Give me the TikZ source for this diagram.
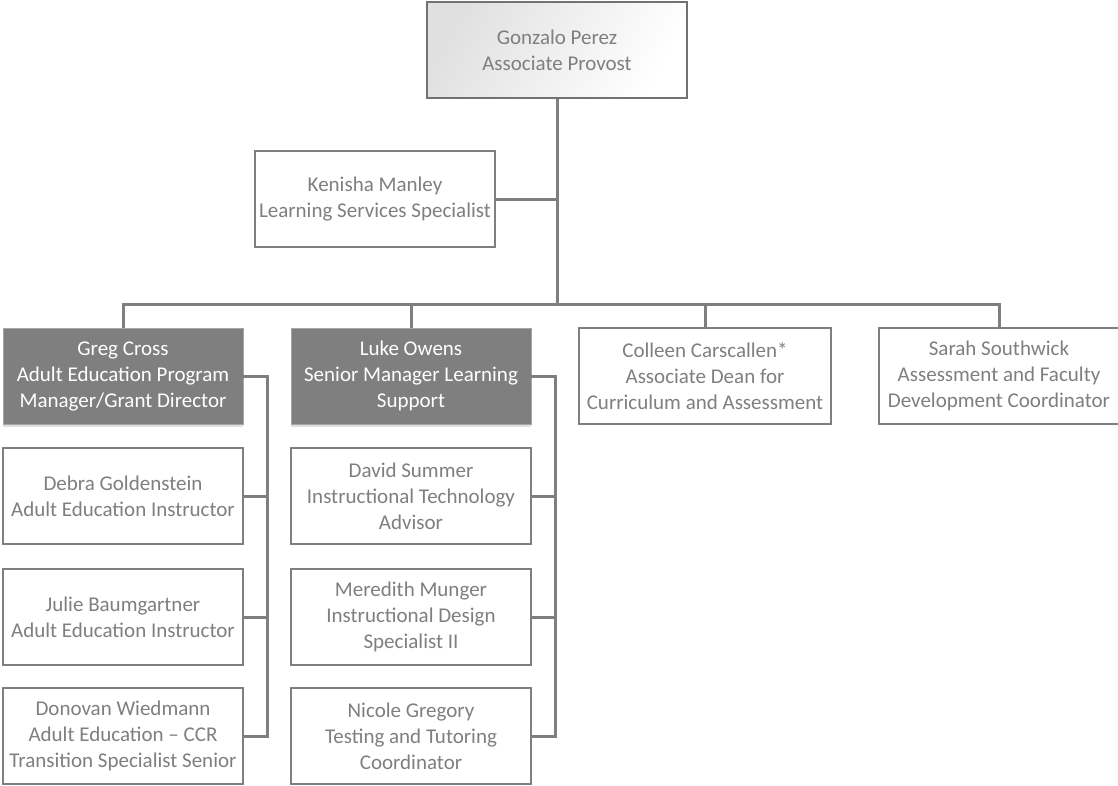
\documentclass[tikz,border=0pt]{standalone}
\usepackage{fontspec}
\setmainfont{Carlito}
\usetikzlibrary{shadows}
\definecolor{linegray}{HTML}{7F7F7F}
\definecolor{textgray}{HTML}{7F7F7F}
\definecolor{boxfill}{HTML}{7F7F7F}
\definecolor{boxedge}{HTML}{A6A6A6}
\tikzset{
  person/.style={draw=linegray, line width=1.8pt, fill=white, text=textgray,
    minimum width=240pt, minimum height=96pt, align=center, inner sep=1pt,
    font=\fontsize{21}{26}\selectfont},
  lead/.style={person, draw=boxedge, line width=0.8pt, fill=boxfill, text=white,
    drop shadow={opacity=0.25, shadow xshift=0pt, shadow yshift=-3pt}},
  topbox/.style={person, line width=2.8pt, draw=linegray!90!black, minimum width=260pt,
    left color=black!12, right color=white, shading angle=60},
  conn/.style={draw=linegray, line width=3pt},
}
\begin{document}
\begin{tikzpicture}[x=1pt, y=-1pt]
\useasboundingbox (0,0) rectangle (1118,785);
\node[topbox] (gp) at (557,50) {Gonzalo Perez\\Associate Provost};
\node[person] (km) at (375,199) {Kenisha Manley\\Learning Services Specialist};
\node[lead] (gc) at (123,376) {Greg Cross\\Adult Education Program\\Manager/Grant Director};
\node[lead] (lo) at (411,376) {Luke Owens\\Senior Manager Learning\\Support};
\node[person, minimum width=252pt] (cc) at (705,376) {Colleen Carscallen*\\Associate Dean for\\Curriculum and Assessment};
\node[person] (ss) at (999,376) {Sarah Southwick\\Assessment and Faculty\\Development Coordinator};
\node[person] (dg) at (123,496) {Debra Goldenstein\\Adult Education Instructor};
\node[person] (jb) at (123,617) {Julie Baumgartner\\Adult Education Instructor};
\node[person] (dw) at (123,736) {Donovan Wiedmann\\Adult Education – CCR\\Transition Specialist Senior};
\node[person] (ds) at (411,496) {David Summer\\Instructional Technology\\Advisor};
\node[person] (mm) at (411,617) {Meredith Munger\\Instructional Design\\Specialist II};
\node[person] (ng) at (411,736) {Nicole Gregory\\Testing and Tutoring\\Coordinator};
\coordinate (bus) at (0,304);
\coordinate (gx) at (267,0);
\coordinate (lx) at (555,0);
% main tree
\draw[conn] (gp.south) -- (gp.south |- bus);
\draw[conn] (km.east) -- (km.east -| gp.south);
\draw[conn] (gc.north) -- (gc.north |- bus) -- (ss.north |- bus) -- (ss.north);
\draw[conn] (lo.north) -- (lo.north |- bus);
\draw[conn] (cc.north) -- (cc.north |- bus);
% Greg group
\draw[conn] (gc.east) -- (gc.east -| gx) -- (gx |- dw.east) -- (dw.east);
\draw[conn] (dg.east) -- (dg.east -| gx);
\draw[conn] (jb.east) -- (jb.east -| gx);
% Luke group
\draw[conn] (lo.east) -- (lo.east -| lx) -- (lx |- ng.east) -- (ng.east);
\draw[conn] (ds.east) -- (ds.east -| lx);
\draw[conn] (mm.east) -- (mm.east -| lx);
\end{tikzpicture}
\end{document}
